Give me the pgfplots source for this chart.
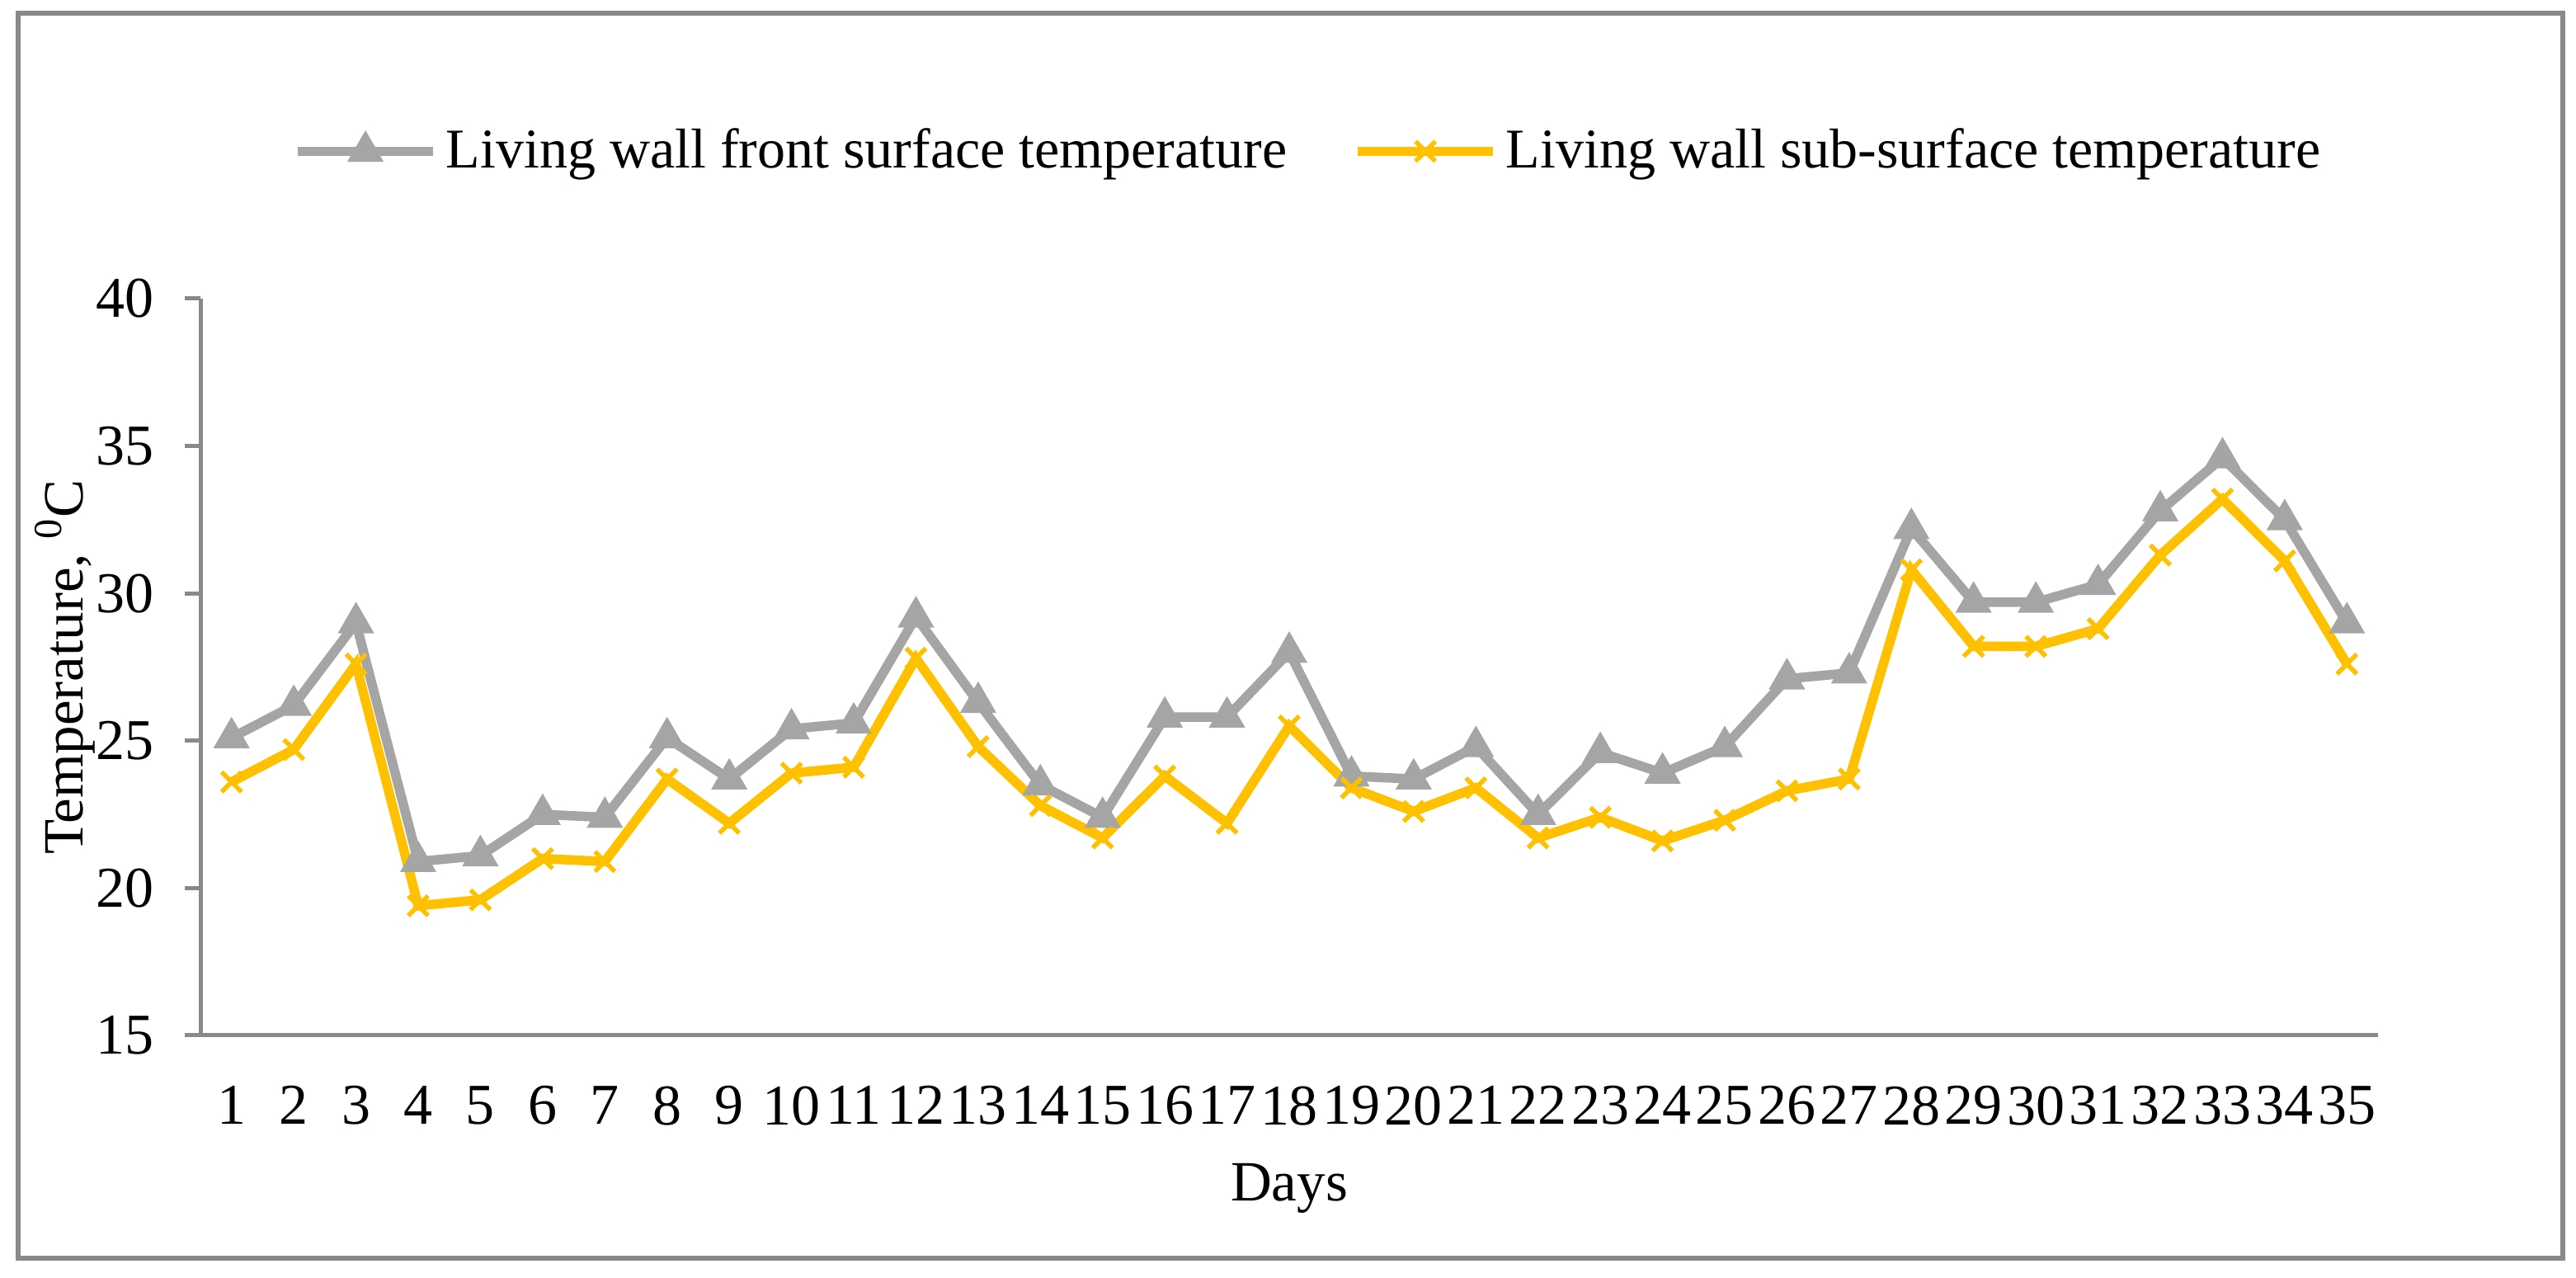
\documentclass[border=0pt]{standalone}
\usepackage{fontspec}
\setmainfont{Liberation Serif}
\usepackage{pgfplots}
\pgfplotsset{compat=1.18}
\usepackage{pgfplotstable}
\definecolor{sgray}{HTML}{A5A5A5}
\definecolor{syellow}{HTML}{FFC000}
\definecolor{axgray}{HTML}{898989}
\pgfplotstableread{
day front sub
1 25.1 23.6
2 26.2 24.7
3 29.0 27.6
4 20.9 19.4
5 21.1 19.6
6 22.5 21.0
7 22.4 20.9
8 25.1 23.7
9 23.7 22.2
10 25.4 23.9
11 25.6 24.1
12 29.2 27.8
13 26.3 24.8
14 23.5 22.8
15 22.4 21.7
16 25.8 23.8
17 25.8 22.2
18 28.0 25.5
19 23.8 23.4
20 23.7 22.6
21 24.8 23.4
22 22.5 21.7
23 24.6 22.4
24 23.9 21.6
25 24.8 22.3
26 27.1 23.3
27 27.3 23.7
28 32.2 30.8
29 29.7 28.2
30 29.7 28.2
31 30.3 28.8
32 32.8 31.3
33 34.6 33.2
34 32.5 31.1
35 29.0 27.6
}\datatable
\begin{document}
\begin{tikzpicture}
\useasboundingbox (0,0) rectangle (624.6pt,309.8pt);
\draw[axgray, line width=1.1pt] (4.4pt,4.8pt) rectangle (621.4pt,306.6pt);
\begin{axis}[
  at={(48.6pt,58.8pt)}, anchor=south west,
  scale only axis, width=528pt, height=178.6pt,
  xmin=0.5, xmax=35.5, ymin=15, ymax=40,
  axis x line*=bottom, axis y line*=left,
  axis line style={axgray, line width=1pt},
  xtick={1,...,35}, ytick={15,20,...,40},
  xtick style={draw=none},
  ytick style={axgray, line width=1pt},
  tick align=outside, major tick length=3.8pt,
  ytick pos=left,
  /pgf/number format/assume math mode=true,
  tick label style={font=\fontsize{14}{16}\selectfont, black},
  xticklabel style={yshift=-5pt},
  yticklabel style={xshift=-4pt},
  xlabel={Days},
  ylabel={Temperature, \textsuperscript{0}C},
  label style={font=\fontsize{13.8}{16}\selectfont},
  xlabel style={at={(axis description cs:0.5,-0.225)}, anchor=base},
  ylabel style={at={(axis description cs:-0.054,0.5)}, anchor=base, rotate=0},
  legend columns=2,
  legend style={draw=none, fill=none, at={(axis description cs:0.51,1.2)}, anchor=center,
    font=\fontsize{13.6}{16}\selectfont, inner sep=0pt,
    /tikz/every even column/.append style={column sep=14pt}},
  legend cell align=left,
  legend image code/.code={\draw[mark repeat=2,mark phase=2] plot coordinates {(0pt,0pt)(16.4pt,0pt)(32.8pt,0pt)};},
]
\addplot[sgray, line width=2.3pt, mark=triangle*, mark size=4.6pt, mark options={fill=sgray, draw=sgray, line width=0.5pt}]
  table[x=day, y=front] {\datatable};
\addlegendentry{Living wall front surface temperature}
\addplot[syellow, line width=2.3pt, mark=x, mark size=3.4pt, mark options={line width=1.1pt}]
  table[x=day, y=sub] {\datatable};
\addlegendentry{Living wall sub-surface temperature}
\end{axis}
\end{tikzpicture}
\end{document}
